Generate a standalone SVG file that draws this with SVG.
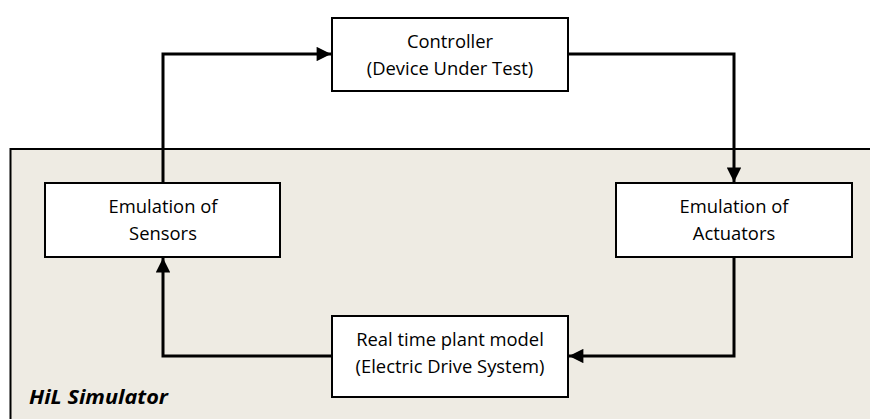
<svg xmlns="http://www.w3.org/2000/svg" width="870" height="419" viewBox="0 0 870 419">
<style>
.box{fill:#fff;stroke:#000;stroke-width:2}
.lbl{font-family:"Open Sans","Liberation Sans",sans-serif;font-size:18.4px;fill:#000;text-anchor:middle}
.conn{fill:none;stroke:#000;stroke-width:3}
</style>
<defs>
<marker id="arr" viewBox="0 0 10 10" refX="10" refY="5" markerWidth="5.3" markerHeight="4.8" markerUnits="strokeWidth" orient="auto">
<path d="M0,0 L10,5 L0,10 Z" fill="#000"/>
</marker>
</defs>
<rect width="870" height="419" fill="#fff"/>
<g id="hil">
<rect x="10.5" y="149" width="870" height="280" fill="#EEEBE3" stroke="#000" stroke-width="2"/>
<text x="29" y="404" font-family="'Open Sans','Liberation Sans',sans-serif" font-size="20" font-weight="bold" font-style="italic" textLength="139" lengthAdjust="spacingAndGlyphs">HiL Simulator</text>
</g>
<g id="connectors">
<path class="conn" d="M163,183 V54 H331" marker-end="url(#arr)"/>
<path class="conn" d="M568,54 H734 V182" marker-end="url(#arr)"/>
<path class="conn" d="M734,257 V356 H569" marker-end="url(#arr)"/>
<path class="conn" d="M332,356 H163 V258" marker-end="url(#arr)"/>
</g>
<g id="controller">
<rect class="box" x="332" y="18" width="236" height="73"/>
<text class="lbl" x="450" y="48">Controller</text>
<text class="lbl" x="450" y="75">(Device Under Test)</text>
</g>
<g id="sensors">
<rect class="box" x="45" y="183" width="235" height="74"/>
<text class="lbl" x="163" y="213">Emulation of</text>
<text class="lbl" x="163" y="240">Sensors</text>
</g>
<g id="actuators">
<rect class="box" x="616" y="183" width="236" height="74"/>
<text class="lbl" x="734" y="213">Emulation of</text>
<text class="lbl" x="734" y="240">Actuators</text>
</g>
<g id="plant">
<rect class="box" x="332" y="316" width="236" height="81"/>
<text class="lbl" x="450" y="346">Real time plant model</text>
<text class="lbl" x="450" y="373">(Electric Drive System)</text>
</g>
</svg>
